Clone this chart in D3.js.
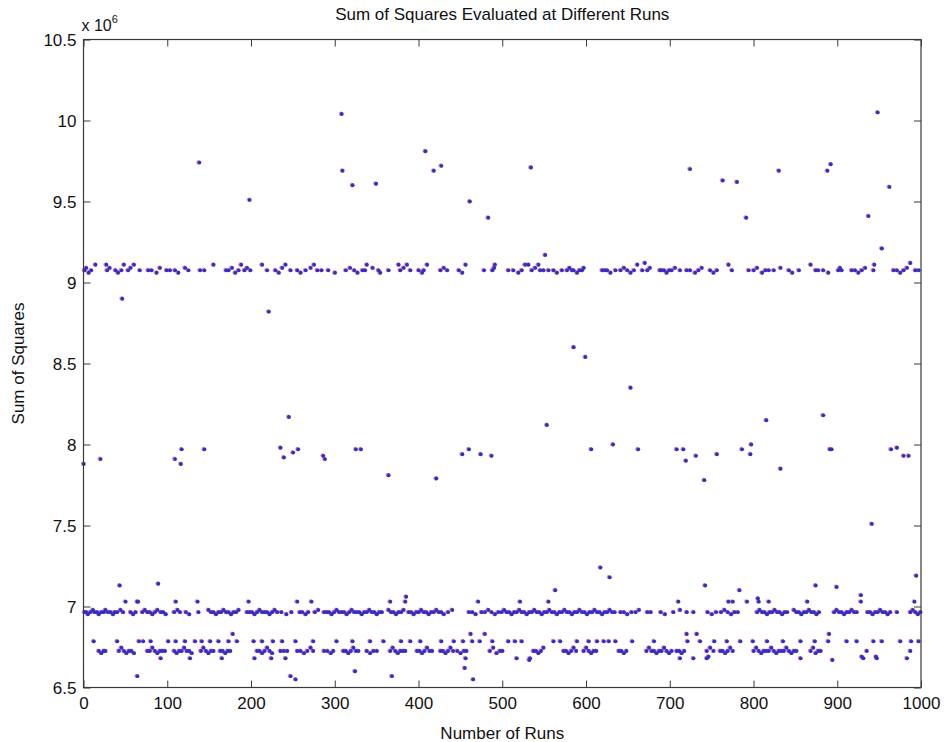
<!DOCTYPE html>
<html>
<head>
<meta charset="utf-8">
<script src="https://cdn.jsdelivr.net/npm/d3@7"></script>
<style>
  html, body { margin: 0; padding: 0; background: #fff; }
  svg { display: block; font-family: "Liberation Sans", Arial, sans-serif; }
</style>
</head>
<body>
<svg id="chart" width="945" height="742"></svg>
<script>
// Sum of squares per run (values in units of 1e6), grouped by the level they settle at.
const xTicks = [0, 100, 200, 300, 400, 500, 600, 700, 800, 900, 1000];
const yTicks = [6.5, 7, 7.5, 8, 8.5, 9, 9.5, 10, 10.5];

// runs settling near 9.075e6
const upperRuns = [1, 9, 28, 38, 45, 53, 67, 77, 81, 99, 103, 109, 125, 139, 144,
  170, 173, 185, 192, 199, 219, 229, 247, 255, 265, 279, 284, 292, 313,
  323, 333, 336, 352, 364, 378, 390, 400, 406, 426, 434, 448, 478, 488,
  507, 513, 523, 535, 545, 549, 555, 561, 571, 577, 583, 585, 592, 595, 619, 622, 625,
  635, 641, 649, 657, 667, 673, 688, 690, 693, 699, 702, 712, 720, 724, 734,
  748, 756, 774, 794, 800, 814, 818, 824, 842, 854, 874, 877, 883, 901, 905, 917,
  921, 929, 943, 967, 971, 979, 993, 997];
// runs settling a little lower, near 9.06e6
const upperLowRuns = [6, 41, 87, 113, 181, 233, 259, 300, 327, 354, 404, 452, 519, 565, 589, 629, 653, 696, 730,
  752, 810, 846, 889, 925, 975];
// runs settling a little higher, near 9.09e6
const upperRaisedRuns = [3, 31, 56, 91, 121, 177, 195, 237, 271, 318, 345, 382, 430, 490, 539, 580, 597, 645, 676,
  706, 738, 804, 832, 903, 933, 983];
// runs settling near 9.11e6
const upperHighRuns = [14, 27, 48, 60, 155, 188, 213, 241, 275, 338, 376, 386, 410, 456, 491, 527, 531, 543, 661,
  770, 868, 944];

// runs settling near 6.965e6
const midRuns = [1, 3, 8, 13, 16, 21, 24, 29, 32, 37, 40, 47, 56, 62, 70, 76, 79, 85, 92, 95, 108, 115, 122,
  137, 152, 155, 161, 164, 170, 173, 179, 182, 195, 198, 201, 207, 213, 216, 219, 225, 231, 236, 248, 258, 261,
  268, 276, 287, 290, 293, 299, 305, 308, 311, 317, 323, 326, 329, 335, 338, 344, 347, 353,
  356, 367, 370, 376, 379, 388, 391, 397, 400, 406, 409, 415, 418, 424, 427,
  435, 460, 464, 475, 479, 487, 495, 499, 505, 508, 514, 517, 523, 526, 532,
  535, 541, 544, 550, 553, 559, 562, 568, 571, 577, 580, 586, 589, 595, 598,
  604, 607, 613, 616, 622, 625, 631, 634, 641, 645, 654, 659, 673, 677, 689, 704,
  720, 728, 745, 755, 761, 769, 777, 781, 804, 810, 813, 819, 822, 828, 831, 837,
  840, 851, 854, 860, 863, 869, 872, 878, 896, 902, 905, 911, 914, 920, 923, 936,
  939, 945, 948, 954, 957, 963, 971, 987, 993, 999];
// runs settling a little lower, near 6.95e6
const midLowRuns = [5, 18, 35, 59, 82, 98, 126, 158, 176, 204, 222, 242, 265, 296, 314, 332, 350, 373, 394, 412,
  430, 468, 491, 511, 529, 547, 565, 583, 601, 619, 649, 694, 750, 773, 816, 834, 857, 875, 908, 942, 960, 996];
// runs settling a little higher, near 6.98e6
const midRaisedRuns = [11, 26, 44, 73, 88, 112, 149, 167, 185, 210, 228, 280, 302, 320, 341, 364, 382, 403, 421,
  440, 483, 502, 520, 538, 556, 574, 592, 610, 628, 663, 712, 765, 807, 825, 848, 866, 899, 917, 951, 990];
// runs settling near 7.03e6
const midHighRuns = [50, 64, 65, 110, 136, 197, 255, 272, 366, 384, 471, 521, 555, 710, 770, 775, 792, 806, 818, 864,
  928, 992];

// runs settling near 6.785e6
const lowUpperRuns = [12, 40, 66, 71, 80, 101, 110, 121, 133, 141, 151, 161, 173, 183, 203, 213, 226, 237, 253, 274,
  302, 321, 342, 358, 379, 390, 402, 427, 442, 453, 464, 473, 488, 507, 515, 523, 561, 569, 589, 603, 613, 621, 627,
  635, 655, 681, 721, 736, 753, 768, 784, 799, 816, 835, 856, 873, 889, 911, 923, 943, 953, 975, 988, 997];
// runs settling near 6.725e6
const lowRuns = [18, 24, 26, 42, 48, 54, 57, 76, 79, 85, 91, 94, 97, 108, 114, 117,
  123, 126, 140, 146, 152, 155, 163, 166, 172, 175, 207, 210, 216, 222, 235, 239,
  243, 255, 259, 267, 274, 287, 291, 298, 310, 313, 319, 325, 328, 338, 346, 350, 366,
  372, 378, 381, 384, 398, 401, 407, 413, 416, 426, 429, 435, 441, 446, 454, 457,
  485, 497, 500, 537, 540, 546, 573, 576, 582, 588, 597, 603, 609, 612, 639,
  642, 648, 672, 678, 681, 687, 690, 696, 702, 708, 711, 717, 744, 752, 760, 763,
  769, 775, 800, 806, 812, 815, 818, 824, 830, 833, 836, 842, 848, 851, 868,
  877, 880, 935, 987];
// runs settling a little lower, near 6.71e6
const lowLowRuns = [21, 51, 60, 88, 111, 129, 149, 169, 213, 225, 263, 295, 316, 342, 375, 404, 432, 450, 493, 543,
  579, 606, 645, 684, 699, 714, 766, 809, 827, 845, 874];
// runs settling a little higher, near 6.745e6
const lowRaisedRuns2 = [45, 82, 120, 143, 219, 271, 322, 369, 410, 438, 489, 549, 585, 600, 675, 693, 748, 772, 803,
  821, 839, 871];
// runs settling near 6.68e6
const lowDeepRuns = [92, 127, 165, 204, 224, 241, 456, 517, 533, 712, 728, 744, 856, 931, 947, 983];
// runs settling near 6.83e6
const lowRaisedRuns = [178, 462, 479, 720, 732, 890];

// individual runs away from the main levels: [run, value]
const scatteredRuns = [
  [0, 7.88], [20, 7.91], [46, 8.90], [109, 7.91], [116, 7.88], [117, 7.97], [144, 7.97], [138, 9.74], [198, 9.51],
  [221, 8.82], [235, 7.98], [239, 7.92], [245, 8.17], [250, 7.95], [256, 7.97], [286, 7.93], [288, 7.91],
  [308, 10.04], [309, 9.69], [321, 9.60], [325, 7.97], [331, 7.97], [349, 9.61], [364, 7.81], [408, 9.81],
  [418, 9.69], [421, 7.79], [427, 9.72], [452, 7.94], [460, 7.97], [461, 9.50], [474, 7.94], [483, 9.40], [487, 7.93],
  [534, 9.71], [551, 9.17], [553, 8.12], [585, 8.60], [599, 8.54], [606, 7.97], [632, 8.00], [653, 8.35], [662, 7.97],
  [670, 9.12], [708, 7.97], [716, 7.97], [719, 7.90], [724, 9.70], [731, 7.93], [741, 7.78], [756, 7.94], [763, 9.63],
  [780, 9.62], [786, 7.97], [791, 9.40], [796, 7.94], [797, 8.00], [815, 8.15], [830, 9.69], [832, 7.85], [883, 8.18],
  [888, 9.69], [891, 7.97], [892, 9.73], [893, 7.97], [937, 9.41], [941, 7.51], [948, 10.05], [953, 9.21], [962, 9.59],
  [964, 7.97], [971, 7.98], [979, 7.93], [985, 7.93], [987, 9.12],
  [43, 7.13], [89, 7.14], [385, 7.06], [563, 7.10], [617, 7.24], [628, 7.18], [742, 7.13], [783, 7.10], [805, 7.05],
  [874, 7.13], [899, 7.12], [928, 7.07], [994, 7.19],
  [64, 6.57], [247, 6.57], [253, 6.55], [324, 6.60], [368, 6.57], [455, 6.62], [465, 6.55], [532, 6.67], [746, 6.69],
  [894, 6.67], [929, 6.69], [946, 6.69]
];

// level (in 1e6) for each group of runs
const levels = [
  [upperRuns, 9.075], [upperLowRuns, 9.06], [upperRaisedRuns, 9.09], [upperHighRuns, 9.11],
  [midRuns, 6.965], [midLowRuns, 6.952], [midRaisedRuns, 6.978], [midHighRuns, 7.03],
  [lowUpperRuns, 6.785], [lowRuns, 6.725], [lowLowRuns, 6.712], [lowRaisedRuns2, 6.745],
  [lowDeepRuns, 6.68], [lowRaisedRuns, 6.83]
];

const points = [];
levels.forEach(([runs, v]) => runs.forEach(r => points.push({ run: r, value: v })));
scatteredRuns.forEach(([r, v]) => points.push({ run: r, value: v }));

const svg = d3.select("#chart");
const plotLeft = 83.5, plotRight = 921, plotTop = 39.5, plotBottom = 687.5;

const x = d3.scaleLinear().domain([0, 1000]).range([plotLeft, plotRight]);
const y = d3.scaleLinear().domain([6.5, 10.5]).range([plotBottom, plotTop]);

const axisColor = "#3a3a3a";
const tickLen = 7;
const fontSize = "17px";

// markers: faint red halo under a blue dot
const dots = svg.append("g");
dots.selectAll("circle.r").data(points).join("circle").attr("class", "r")
  .attr("cx", d => x(d.run) - 0.5).attr("cy", d => y(d.value) - 0.3)
  .attr("r", 2.2).attr("fill", "#d83a6a").attr("opacity", 0.55);
dots.selectAll("circle.b").data(points).join("circle").attr("class", "b")
  .attr("cx", d => x(d.run) + 0.3).attr("cy", d => y(d.value))
  .attr("r", 1.95).attr("fill", "#3030c8");

// axes with inward ticks on all four sides
const fmt = d => String(d);
const gx = svg.append("g").attr("transform", `translate(0,${plotBottom})`)
  .call(d3.axisBottom(x).tickValues(xTicks).tickFormat(fmt).tickSizeInner(-tickLen).tickSizeOuter(0).tickPadding(9));
const gxTop = svg.append("g").attr("transform", `translate(0,${plotTop})`)
  .call(d3.axisTop(x).tickValues(xTicks).tickFormat("").tickSizeInner(-tickLen).tickSizeOuter(0));
const gy = svg.append("g").attr("transform", `translate(${plotLeft},0)`)
  .call(d3.axisLeft(y).tickValues(yTicks).tickFormat(fmt).tickSizeInner(-tickLen).tickSizeOuter(0).tickPadding(7));
const gyRight = svg.append("g").attr("transform", `translate(${plotRight},0)`)
  .call(d3.axisRight(y).tickValues(yTicks).tickFormat("").tickSizeInner(-tickLen).tickSizeOuter(0));

[gx, gxTop, gy, gyRight].forEach(g => {
  g.select(".domain").remove();
  g.selectAll(".tick line").attr("stroke", axisColor).attr("stroke-width", 1);
  g.selectAll("text").attr("fill", "#111").style("font-size", fontSize)
    .style("font-family", "'Liberation Sans', Arial, sans-serif");
});
gy.selectAll("text").attr("dy", "0.35em");

// plot frame
svg.append("rect")
  .attr("x", plotLeft).attr("y", plotTop).attr("width", plotRight - plotLeft).attr("height", plotBottom - plotTop)
  .attr("fill", "none").attr("stroke", axisColor).attr("stroke-width", 1.2);

// exponent label
const expo = svg.append("text").attr("x", plotLeft - 2).attr("y", 31)
  .attr("fill", "#111").style("font-size", "16px");
expo.append("tspan").text("x 10");
expo.append("tspan").attr("dy", -8).style("font-size", "11px").text("6");

// title and axis titles
svg.append("text").attr("x", (plotLeft + plotRight) / 2).attr("y", 20).attr("text-anchor", "middle")
  .attr("fill", "#111").style("font-size", fontSize).text("Sum of Squares Evaluated at Different Runs");
svg.append("text").attr("x", (plotLeft + plotRight) / 2).attr("y", 739).attr("text-anchor", "middle")
  .attr("fill", "#111").style("font-size", fontSize).text("Number of Runs");
svg.append("text").attr("transform", `translate(24,${(plotTop + plotBottom) / 2}) rotate(-90)`).attr("text-anchor", "middle")
  .attr("fill", "#111").style("font-size", fontSize).text("Sum of Squares");
</script>
</body>
</html>
